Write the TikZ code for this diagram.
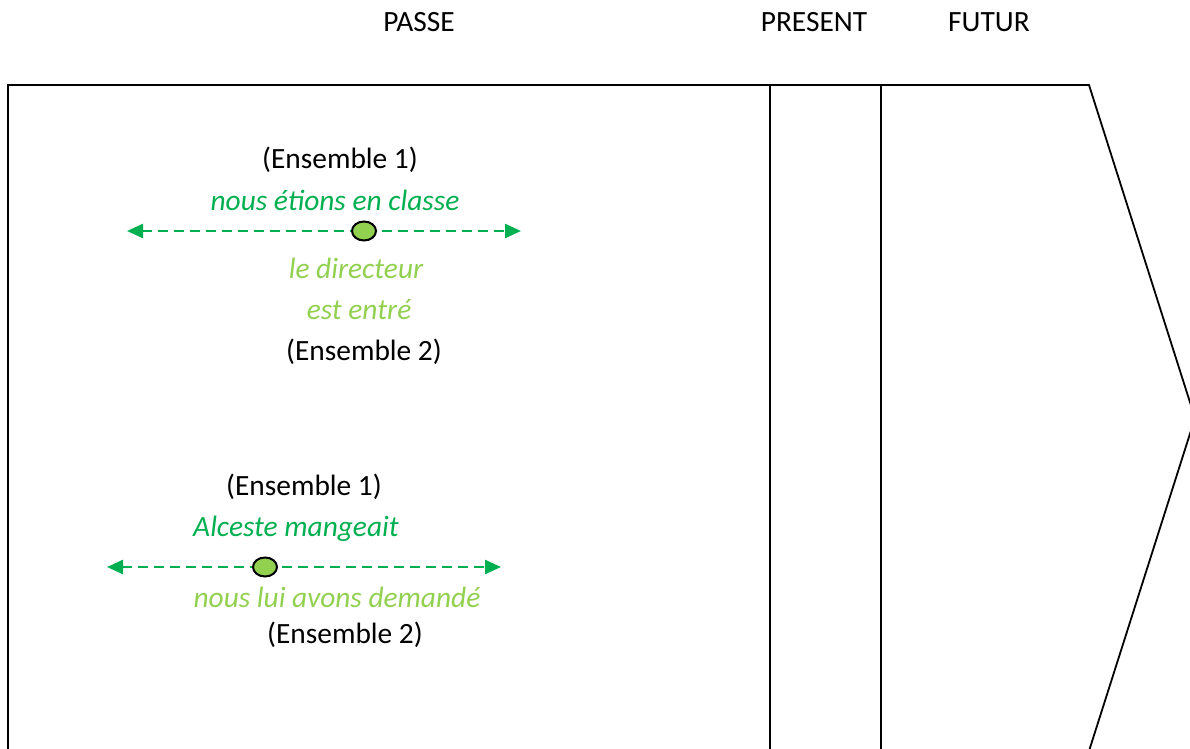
\documentclass[tikz,border=0pt]{standalone}
\usepackage{fontspec}
\setmainfont{Carlito}
\usepackage{xcolor}
\usetikzlibrary{arrows.meta,shapes.geometric}
\definecolor{vertfonce}{HTML}{00B050}
\definecolor{vertclair}{HTML}{92D050}

\begin{document}
\begin{tikzpicture}[x=0.5pt,y=-0.5pt,
  every node/.style={font=\fontsize{14.7}{17}\selectfont,inner sep=0pt},
  periode/.style={text=black},
  ensemble/.style={text=black},
  action/.style={text=vertfonce,font=\fontsize{14.7}{17}\selectfont\itshape},
  evenement/.style={text=vertclair,font=\fontsize{14.7}{17}\selectfont\itshape},
  duree/.style={vertfonce,line width=1.2pt,dash pattern=on 5pt off 3pt,
    {Triangle[length=8pt,width=7pt]}-{Triangle[length=8pt,width=7pt]}},
  instant/.style={ellipse,draw=black,line width=1pt,fill=vertclair,
    minimum width=12pt,minimum height=9.5pt}]

\useasboundingbox (0,0) rectangle (1190,749);
\clip (0,0) rectangle (1190,749);

% frise
\draw[line width=0.9pt] (8,85) -- (1089,85) -- (1195,418) -- (1089,751) -- (8,751) -- cycle;
\draw[line width=0.9pt] (770,85) -- (770,751);
\draw[line width=0.9pt] (881,85) -- (881,751);

\node[periode] (passe) at (419,22) {PASSE};
\node[periode] (present) at (814,22) {PRESENT};
\node[periode] (futur) at (989,22) {FUTUR};

% premier exemple
\node[ensemble] (ensA1) at (340,160) {(Ensemble 1)};
\node[action] (classe) at (335,200) {nous étions en classe};
\coordinate (gA) at (127,231);
\coordinate (dA) at (521,231);
\draw[duree] (gA) -- (dA);
\node[instant] (ptA) at (364,231) {};
\node[evenement] (directeur) at (356,268) {le directeur};
\node[evenement] (entre) at (359,310) {est entré};
\node[ensemble] (ensA2) at (364,352) {(Ensemble 2)};

% second exemple
\node[ensemble] (ensB1) at (304,487) {(Ensemble 1)};
\node[action] (alceste) at (296,529) {Alceste mangeait};
\coordinate (gB) at (107,567);
\coordinate (dB) at (501,567);
\draw[duree] (gB) -- (dB);
\node[instant] (ptB) at (265,567) {};
\node[evenement] (demande) at (337,597) {nous lui avons demandé};
\node[ensemble] (ensB2) at (345,635) {(Ensemble 2)};

\end{tikzpicture}
\end{document}
